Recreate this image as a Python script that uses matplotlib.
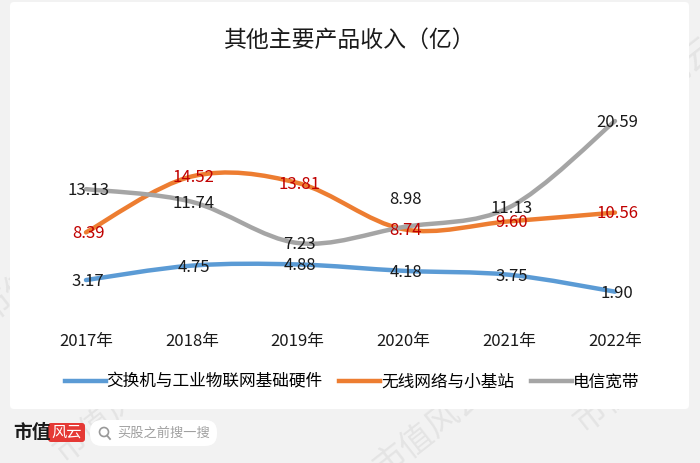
import numpy as np
import matplotlib
matplotlib.use("Agg")
import matplotlib.pyplot as plt
from matplotlib.path import Path
from matplotlib.patches import PathPatch, FancyBboxPatch, Circle
from matplotlib.lines import Line2D

plt.rcParams['font.family'] = ['Noto Sans CJK SC', 'DejaVu Sans']

years = ["2017年", "2018年", "2019年", "2020年", "2021年", "2022年"]
switch_hw = [3.17, 4.75, 4.88, 4.18, 3.75, 1.90]
wireless = [8.39, 14.52, 13.81, 8.74, 9.60, 10.56]
broadband = [13.13, 11.74, 7.23, 8.98, 11.13, 20.59]
series_names = ["交换机与工业物联网基础硬件", "无线网络与小基站", "电信宽带"]

BLUE, ORANGE, GRAY = "#5b9bd5", "#ed7d31", "#a5a5a5"
W, H = 700, 463


def smooth_path(xs, ys):
    # Catmull-Rom style bezier control points, like a spreadsheet "smooth line"
    pts = np.column_stack([xs, ys]).astype(float)
    n = len(pts)
    verts = [pts[0]]
    codes = [Path.MOVETO]
    for i in range(n - 1):
        p0 = pts[max(i - 1, 0)]
        p1, p2 = pts[i], pts[i + 1]
        p3 = pts[min(i + 2, n - 1)]
        c1 = p1 + (p2 - p0) / 6.0
        c2 = p2 - (p3 - p1) / 6.0
        verts += [c1, c2, p2]
        codes += [Path.CURVE4] * 3
    return Path(verts, codes)


fig = plt.figure(figsize=(W / 100, H / 100), dpi=100)
fig.patch.set_facecolor("#f2f2f2")

# white card + bottom bar, drawn in pixel coordinates
bg = fig.add_axes([0, 0, 1, 1])
bg.set_xlim(0, W)
bg.set_ylim(H, 0)
bg.axis("off")
bg.add_patch(FancyBboxPatch((10, 2), 679, 407, boxstyle="round,pad=0,rounding_size=4",
                            fc="white", ec="none"))

# watermarks (faint, rotated)
for wx, wy in [(215, 60), (400, 55), (660, 85), (35, 275), (235, 255),
               (470, 165), (505, 330), (630, 385), (110, 415), (430, 430)]:
    bg.text(wx, wy, "市值风云", fontsize=24, color="black", alpha=0.06, rotation=38,
            ha="center", va="center", zorder=0)

# logo + search box
bg.text(13, 433, "市值", fontsize=13.5, fontweight="bold", color="#1a1a1a",
        va="center", ha="left")
bg.add_patch(FancyBboxPatch((48, 423), 37, 19, boxstyle="round,pad=0,rounding_size=3",
                            fc="#e53935", ec="none"))
bg.text(66.5, 432.5, "风云", fontsize=11, color="white", style="italic",
        ha="center", va="center")
bg.add_patch(FancyBboxPatch((90, 420), 127, 26, boxstyle="round,pad=0,rounding_size=12",
                            fc="white", ec="none"))
bg.add_patch(Circle((104, 432), 4.5, fc="none", ec="#999999", lw=1.2))
bg.plot([107, 110], [435.5, 439], color="#999999", lw=1.3)
bg.text(117, 433, "买股之前搜一搜", fontsize=9.5, color="#a0a0a0",
        ha="left", va="center")

# title
bg.text(350, 40, "其他主要产品收入（亿）", fontsize=16.5, color="#1a1a1a",
        ha="center", va="center")

# main chart axes: x index 0..5 -> px 86..615, value 0..22 -> px 309..108
x0, dx = 86.0, 105.8
ppu = 9.13
left = (x0 - 0.5 * dx) / W
width = 6 * dx / W
bottom = (H - 309) / H
height = 22 * ppu / H
ax = fig.add_axes([left, bottom, width, height])
ax.set_xlim(-0.5, 5.5)
ax.set_ylim(0, 22)
ax.patch.set_alpha(0)
for s in ax.spines.values():
    s.set_visible(False)
ax.set_yticks([])
ax.set_xticks(range(len(years)))
ax.set_xticklabels(years, fontsize=12, color="#1a1a1a")
ax.tick_params(axis="x", length=0, pad=17)

xs = np.arange(len(years))
for vals, color in [(switch_hw, BLUE), (wireless, ORANGE), (broadband, GRAY)]:
    ax.add_patch(PathPatch(smooth_path(xs, vals), fc="none", ec=color, lw=3.2,
                           capstyle="round", joinstyle="round"))

for vals, tcolor in [(switch_hw, "#1a1a1a"), (broadband, "#1a1a1a"), (wireless, "#c00000")]:
    for i, v in enumerate(vals):
        dy = 20 if (vals is broadband and i == 3) else -1
        ax.annotate(f"{v:.2f}", (i, v), xytext=(1.5, dy), textcoords="offset points",
                    ha="center", va="center", fontsize=12, color=tcolor)

handles = [Line2D([], [], color=c, lw=3.2) for c in (BLUE, ORANGE, GRAY)]
fig.legend(handles, series_names, loc="center", bbox_to_anchor=(352 / W, 1 - 382 / H),
           ncol=3, frameon=False, fontsize=12, handlelength=2.45, handletextpad=0.05,
           columnspacing=1.0)

fig.savefig("out.png", dpi=100, facecolor=fig.get_facecolor())
